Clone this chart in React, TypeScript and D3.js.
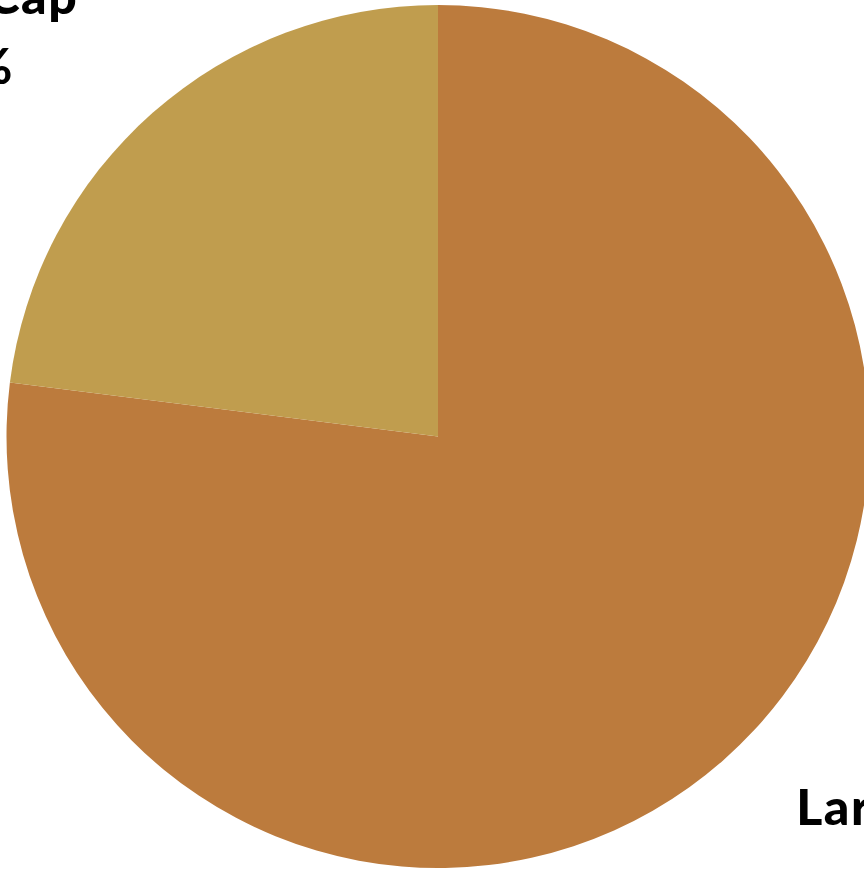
import React from "react";
import * as d3 from "d3";

const categories = ["Large Cap", "Small Cap"];
const values = [77, 23];
const labels = ["77%", "23%"];
const colors = ["#BC7B3D", "#C09D4E"];

const W = 864;
const H = 870;
const cx = 438;
const cy = 436.5;
const R = 431.5;

export default function App() {
  const pie = d3
    .pie<number>()
    .sort(null)
    .value((d) => d);
  const arcs = pie(values);
  const arc = d3.arc<d3.PieArcDatum<number>>().innerRadius(0).outerRadius(R);
  const Rx = 720;
  const Ry = 540;
  return (
    <svg
      width={W}
      height={H}
      style={{ position: "absolute", left: 0, top: 0, background: "#fff" }}
    >
      <g transform={`translate(${cx},${cy})`}>
        {arcs.map((a, i) => (
          <path key={i} d={arc(a) || ""} fill={colors[i]} />
        ))}
        {arcs.map((a, i) => {
          const mid = (a.startAngle + a.endAngle) / 2;
          const x = Math.sin(mid) * Rx;
          const y = -Math.cos(mid) * Ry;
          return (
            <text
              key={"t" + i}
              x={x}
              y={y}
              textAnchor="middle"
              fontFamily="Lato, 'Open Sans', sans-serif"
              fontWeight={900}
              fontSize={50}
              letterSpacing={1.5}
              fill="#000"
            >
              <tspan x={x} y={y - 17}>
                {categories[i]}
              </tspan>
              <tspan x={x} y={y + 53}>
                {labels[i]}
              </tspan>
            </text>
          );
        })}
      </g>
    </svg>
  );
}
